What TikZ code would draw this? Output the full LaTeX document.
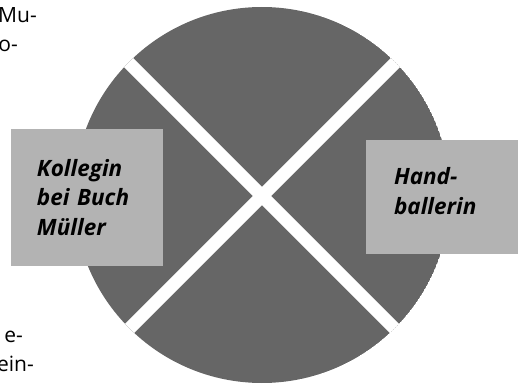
\documentclass[tikz,border=0pt]{standalone}
\usepackage{fontspec}
\setmainfont{Open Sans}
\usetikzlibrary{calc}
\definecolor{pie}{HTML}{666666}
\definecolor{boxgray}{HTML}{B3B3B3}
\begin{document}
\begin{tikzpicture}[x=1pt,y=-1pt,
  labelbox/.style={fill=boxgray, draw=none, minimum width=152pt, inner ysep=0pt,
    align=left, font=\fontsize{22.5}{29.5}\selectfont\bfseries\itshape},
  edgetext/.style={anchor=base east, inner sep=0pt, font=\fontsize{21}{29}\selectfont}]
\useasboundingbox (0,0) rectangle (523,385);
\coordinate (c) at (262,196);
\begin{scope}
  \clip (262,195) circle (188);
  \fill[pie] (262,195) circle (188);
  \draw[white, line width=13pt] ($(c)+(-150,-150)$) -- ($(c)+(150,150)$);
  \draw[white, line width=13pt] ($(c)+(150,-150)$) -- ($(c)+(-150,150)$);
\end{scope}
\node[labelbox, minimum height=137pt, text width=100pt, inner xsep=26pt] (left) at (87,197.5)
  {Kollegin\\bei Buch\\Müller};
\node[labelbox, minimum height=114pt, text width=96pt, inner xsep=28pt] (right) at (442,197)
  {Hand-\\ballerin\rule[-12pt]{0pt}{0pt}};
\node[edgetext] (t1) at (37,23) {Mu-};
\node[edgetext] (t2) at (18,52) {o-};
\node[edgetext] (t3) at (23,342) {e-};
\node[edgetext] (t4) at (34,372) {ein-};
\end{tikzpicture}
\end{document}
